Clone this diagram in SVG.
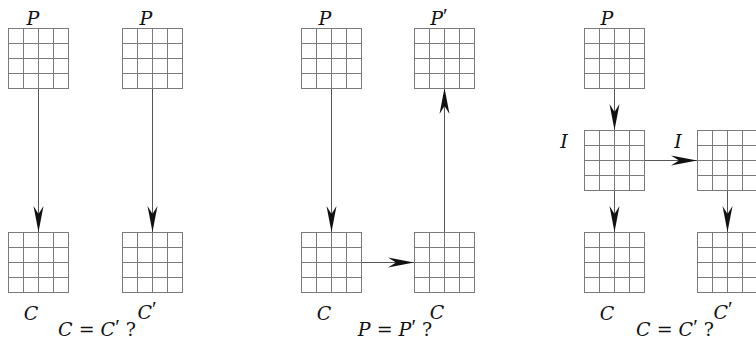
<svg xmlns="http://www.w3.org/2000/svg" xmlns:xlink="http://www.w3.org/1999/xlink" width="756" height="340" viewBox="0 0 756 340">
<style>
.g{fill:#fff;stroke:#7a7a7a;stroke-width:1}
.c{stroke:#555;stroke-width:1;fill:none}
.t{font-family:"DejaVu Serif","Liberation Serif",serif;font-style:italic;font-size:19px;fill:#111;text-anchor:middle}
.u{font-style:normal}
.p{font-family:"Liberation Serif",serif;font-style:normal;font-size:21px}
</style>
<defs>
<marker id="ah" markerUnits="userSpaceOnUse" markerWidth="30" markerHeight="14" viewBox="-26 -7 28 14" refX="0" refY="0" orient="auto">
<path d="M0,0 L-26,-5 L-18,0 L-26,5 Z" fill="#111"/>
</marker>
<g id="grid">
<rect class="g" x="0" y="0" width="60" height="60"/>
<path class="g" d="M15,0V60M30,0V60M45,0V60M0,15H60M0,30H60M0,45H60"/>
</g>
</defs>
<g id="connectors">
<line class="c" x1="38.5" y1="88" x2="38.5" y2="232" marker-end="url(#ah)"/>
<line class="c" x1="152.5" y1="88" x2="152.5" y2="232" marker-end="url(#ah)"/>
<line class="c" x1="331.5" y1="88" x2="331.5" y2="232" marker-end="url(#ah)"/>
<line class="c" x1="361" y1="262.5" x2="414" y2="262.5" marker-end="url(#ah)"/>
<line class="c" x1="444.5" y1="232" x2="444.5" y2="88" marker-end="url(#ah)"/>
<line class="c" x1="614.5" y1="88" x2="614.5" y2="130" marker-end="url(#ah)"/>
<line class="c" x1="644" y1="160.5" x2="697" y2="160.5" marker-end="url(#ah)"/>
<line class="c" x1="614.5" y1="190" x2="614.5" y2="232" marker-end="url(#ah)"/>
<line class="c" x1="727.5" y1="190" x2="727.5" y2="232" marker-end="url(#ah)"/>
</g>
<g id="n1"><use xlink:href="#grid" x="8.5" y="28.5"/><text class="t" x="33" y="25">P</text></g>
<g id="n2"><use xlink:href="#grid" x="122.5" y="28.5"/><text class="t" x="146" y="25">P</text></g>
<g id="n3"><use xlink:href="#grid" x="8.5" y="232.5"/><text class="t" x="31" y="320">C</text></g>
<g id="n4"><use xlink:href="#grid" x="122.5" y="232.5"/><text class="t" x="147" y="319">C<tspan class="p" dy="-3">′</tspan></text></g>
<g id="n5"><use xlink:href="#grid" x="301.5" y="28.5"/><text class="t" x="325" y="25">P</text></g>
<g id="n6"><use xlink:href="#grid" x="414.5" y="28.5"/><text class="t" x="439" y="25">P<tspan class="p" dy="-2">′</tspan></text></g>
<g id="n7"><use xlink:href="#grid" x="301.5" y="232.5"/><text class="t" x="324" y="320">C</text></g>
<g id="n8"><use xlink:href="#grid" x="414.5" y="232.5"/><text class="t" x="437" y="319">C</text></g>
<g id="n9"><use xlink:href="#grid" x="584.5" y="28.5"/><text class="t" x="607" y="25">P</text></g>
<g id="n10"><use xlink:href="#grid" x="584.5" y="130.5"/><text class="t" x="564" y="148">I</text></g>
<g id="n11"><use xlink:href="#grid" x="697.5" y="130.5"/><text class="t" x="678" y="148">I</text></g>
<g id="n12"><use xlink:href="#grid" x="584.5" y="232.5"/><text class="t" x="607" y="320">C</text></g>
<g id="n13"><use xlink:href="#grid" x="697.5" y="232.5"/><text class="t" x="723" y="319">C<tspan class="p" dy="-3">′</tspan></text></g>
<text class="t" x="97" y="336">C <tspan class="u">=</tspan> C<tspan class="p" dy="-2">′</tspan><tspan class="u" dy="2"> ?</tspan></text>
<text class="t" x="395" y="336">P <tspan class="u">=</tspan> P<tspan class="p" dy="-2">′</tspan><tspan class="u" dy="2"> ?</tspan></text>
<text class="t" x="675" y="336">C <tspan class="u">=</tspan> C<tspan class="p" dy="-2">′</tspan><tspan class="u" dy="2"> ?</tspan></text>
</svg>
